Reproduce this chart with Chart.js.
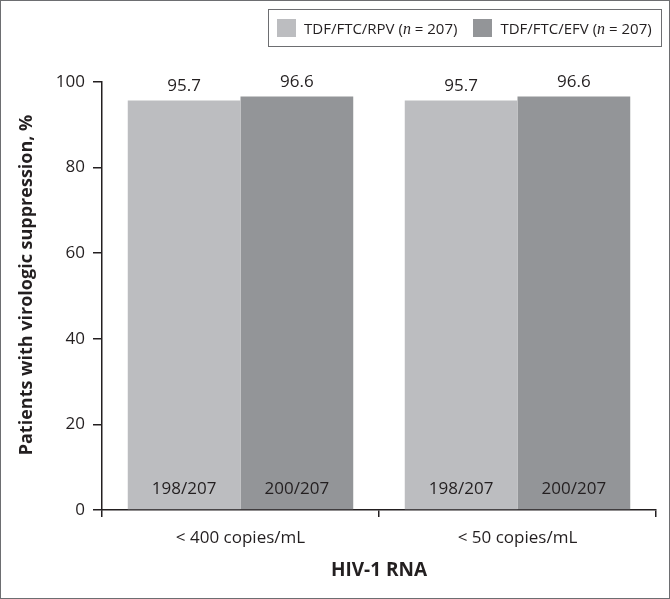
<!DOCTYPE html>
<html>
<head>
<meta charset="utf-8">
<script src="https://cdn.jsdelivr.net/npm/chart.js@4"></script>
<style>
    html, body { margin: 0; padding: 0; background: #fff; }
    #frame {
        position: relative;
        width: 670px;
        height: 599px;
        box-sizing: border-box;
        border: 1px solid #6d6e71;
        overflow: hidden;
    }
    #chart { position: absolute; left: 0; top: 0; }
    .legend {
        position: absolute;
        left: 267px;
        top: 8px;
        width: 394px;
        height: 38px;
        box-sizing: border-box;
        border: 1px solid #6d6e71;
        font-family: "Open Sans", sans-serif;
        font-size: 15px;
        color: #231f20;
        display: flex;
        align-items: center;
        white-space: nowrap;
    }
    .legend-item { display: flex; align-items: center; flex-shrink: 0; }
    .legend-item:first-child { margin-left: 8px; }
    .legend-item + .legend-item { margin-left: 16px; }
    .legend-swatch { width: 19px; height: 18px; margin-right: 8px; }
    .legend i { font-family: "Liberation Serif", serif; font-style: italic; font-size: 16px; }
</style>
</head>
<body>
<div id="frame">
    <canvas id="chart" width="670" height="599"></canvas>
    <div class="legend" id="legend"></div>
</div>
<script>
// data
const categories = ["< 400 copies/mL", "< 50 copies/mL"];
const seriesNames = ["TDF/FTC/RPV", "TDF/FTC/EFV"];
const seriesN = [207, 207];
const rpvValues = [95.7, 95.7];
const efvValues = [96.6, 96.6];
const rpvCounts = ["198/207", "198/207"];
const efvCounts = ["200/207", "200/207"];
const yTicks = [0, 20, 40, 60, 80, 100];
const yTitle = "Patients with virologic suppression, %";
const xTitle = "HIV-1 RNA";

const colors = ["#bcbdc0", "#939598"];
const textColor = "#231f20";
const axisColor = "#231f20";

// legend as html so the italic n stays real text
const legendEl = document.getElementById("legend");
seriesNames.forEach((name, i) => {
    const item = document.createElement("div");
    item.className = "legend-item";
    item.innerHTML = `<span class="legend-swatch" style="background:${colors[i]}"></span>` +
        `<span>${name} (<i>n</i> = ${seriesN[i]})</span>`;
    legendEl.appendChild(item);
});

// value labels above bars + counts near the base, plus the y title
// (drawn by hand because it sits a bit above the plot centre)
const barLabels = {
    id: "barLabels",
    afterDatasetsDraw(chart) {
        const ctx = chart.ctx;
        const counts = [rpvCounts, efvCounts];
        ctx.save();
        ctx.fillStyle = textColor;
        ctx.font = '17px "Open Sans", sans-serif';
        ctx.textAlign = "center";
        ctx.textBaseline = "middle";
        chart.data.datasets.forEach((ds, di) => {
            const meta = chart.getDatasetMeta(di);
            meta.data.forEach((bar, j) => {
                ctx.fillText(ds.data[j].toFixed(1), bar.x, bar.y - 14);
                ctx.fillText(counts[di][j], bar.x, bar.base - 20);
            });
        });
        ctx.translate(26, 284);
        ctx.rotate(-Math.PI / 2);
        ctx.font = 'bold 18px "Open Sans", sans-serif';
        ctx.fillText(yTitle, 0, 0);
        ctx.restore();
    }
};

new Chart(document.getElementById("chart"), {
    type: "bar",
    data: {
        labels: categories,
        datasets: [
            { label: seriesNames[0], data: rpvValues, backgroundColor: colors[0] },
            { label: seriesNames[1], data: efvValues, backgroundColor: colors[1] }
        ]
    },
    options: {
        responsive: false,
        animation: false,
        devicePixelRatio: 1,
        layout: { padding: { top: 81, right: 15, left: 0, bottom: 0 } },
        datasets: { bar: { barPercentage: 1, categoryPercentage: 0.814 } },
        plugins: {
            legend: { display: false },
            tooltip: { enabled: false }
        },
        scales: {
            x: {
                offset: true,
                grid: { offset: true, drawOnChartArea: false, drawTicks: true, tickLength: 7, color: axisColor, lineWidth: 1.5 },
                border: { color: axisColor, width: 1.5 },
                ticks: { color: textColor, font: { family: "Open Sans", size: 17 }, padding: 11 },
                title: {
                    display: true, text: xTitle, color: textColor,
                    font: { family: "Open Sans", size: 19, weight: "bold" },
                    padding: { bottom: 18 }
                },
                afterFit(scale) { scale.height = 90; }
            },
            y: {
                min: 0, max: 100,
                afterBuildTicks(scale) { scale.ticks = yTicks.map(v => ({ value: v })); },
                grid: { drawOnChartArea: false, drawTicks: true, tickLength: 9, color: axisColor, lineWidth: 1.5 },
                border: { color: axisColor, width: 1.5 },
                ticks: { color: textColor, font: { family: "Open Sans", size: 17 }, padding: 8 },
                afterFit(scale) { scale.width = 101; }
            }
        }
    },
    plugins: [barLabels]
});
</script>
</body>
</html>
